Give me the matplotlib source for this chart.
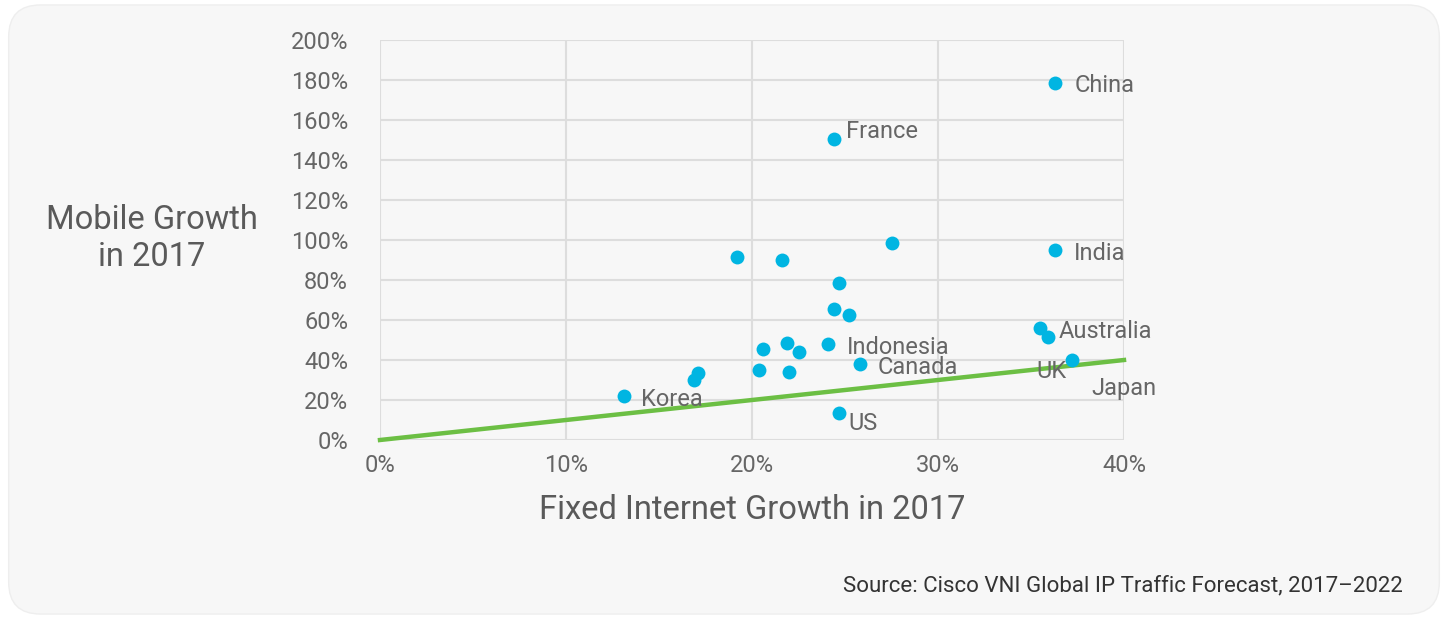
import matplotlib.pyplot as plt
from matplotlib.patches import FancyBboxPatch
from matplotlib.ticker import PercentFormatter

# fixed internet growth (%) vs mobile growth (%) in 2017, per country
fixed = [36.3, 24.4, 36.3, 35.9, 35.5, 37.2, 24.1, 25.8, 13.1, 24.7,
         19.2, 21.6, 27.5, 24.7, 24.4, 25.2, 21.9, 20.6, 22.5, 20.4, 22.0, 17.1, 16.9]
mobile = [178.5, 150.5, 95.0, 51.5, 56.0, 40.0, 48.0, 38.0, 22.0, 13.5,
          91.5, 90.0, 98.5, 78.5, 65.5, 62.5, 48.5, 45.5, 44.0, 35.0, 34.0, 33.5, 30.0]
names = ['China', 'France', 'India', 'Australia', 'UK', 'Japan', 'Indonesia', 'Canada', 'Korea', 'US']

# label offsets in pixels (dx, dy) from each point
offsets = {'China': (19, -3), 'France': (12, 7), 'India': (19, -3), 'Australia': (11, 5),
           'UK': (-4, -44), 'Japan': (19, -29), 'Indonesia': (19, -3), 'Canada': (18, -4),
           'Korea': (17, -4), 'US': (9, -11)}

parity_x = [0, 40]
parity_y = [0, 40]

plt.rcParams['font.family'] = ['Roboto', 'DejaVu Sans']

fig = plt.figure(figsize=(14.48, 6.19), dpi=100)
bg = FancyBboxPatch((0.006, 0.008), 0.988, 0.984, boxstyle='round,pad=0,rounding_size=0.022',
                    transform=fig.transFigure, fc='#f7f7f7', ec='#eeeeee', lw=1,
                    mutation_aspect=1448 / 619, zorder=-5)
fig.patches.append(bg)

ax = fig.add_axes([380 / 1448, 179 / 619, 744 / 1448, 400 / 619])
ax.set_facecolor('none')
ax.set_xlim(0, 40)
ax.set_ylim(0, 200)
ax.set_xticks([0, 10, 20, 30, 40])
ax.set_yticks(range(0, 201, 20))
ax.xaxis.set_major_formatter(PercentFormatter(decimals=0))
ax.yaxis.set_major_formatter(PercentFormatter(decimals=0))
ax.grid(True, color='#dddddd', lw=1.5)
ax.set_axisbelow(True)
for s in ax.spines.values():
    s.set_visible(False)
ax.tick_params(length=0, labelsize=17, labelcolor='#666666')
ax.tick_params(axis='x', pad=10)
ax.tick_params(axis='y', pad=23)

ax.plot(parity_x, parity_y, color='#6cbf44', lw=3.2, zorder=2, clip_on=False)
ax.scatter(fixed, mobile, s=100, color='#00b5e2', zorder=3, clip_on=False, lw=0)

for i, name in enumerate(names):
    dx, dy = offsets[name]
    ax.annotate(name, (fixed[i], mobile[i]), xytext=(dx, dy), textcoords='offset pixels',
                ha='left', va='center', fontsize=17, color='#666666', zorder=4)

fig.text(152 / 1448, 1 - 239 / 619, 'Mobile Growth\nin 2017', ha='center', va='center',
         fontsize=23.5, color='#5a5a5a', linespacing=1.2)
fig.text(752 / 1448, 1 - 510 / 619, 'Fixed Internet Growth in 2017', ha='center', va='center',
         fontsize=23.5, color='#5a5a5a')
fig.text(1403 / 1448, 1 - 586 / 619, 'Source: Cisco VNI Global IP Traffic Forecast, 2017\u20132022',
         ha='right', va='center', fontsize=16, color='#333333')

fig.savefig('out.png', dpi=100, facecolor='white')
